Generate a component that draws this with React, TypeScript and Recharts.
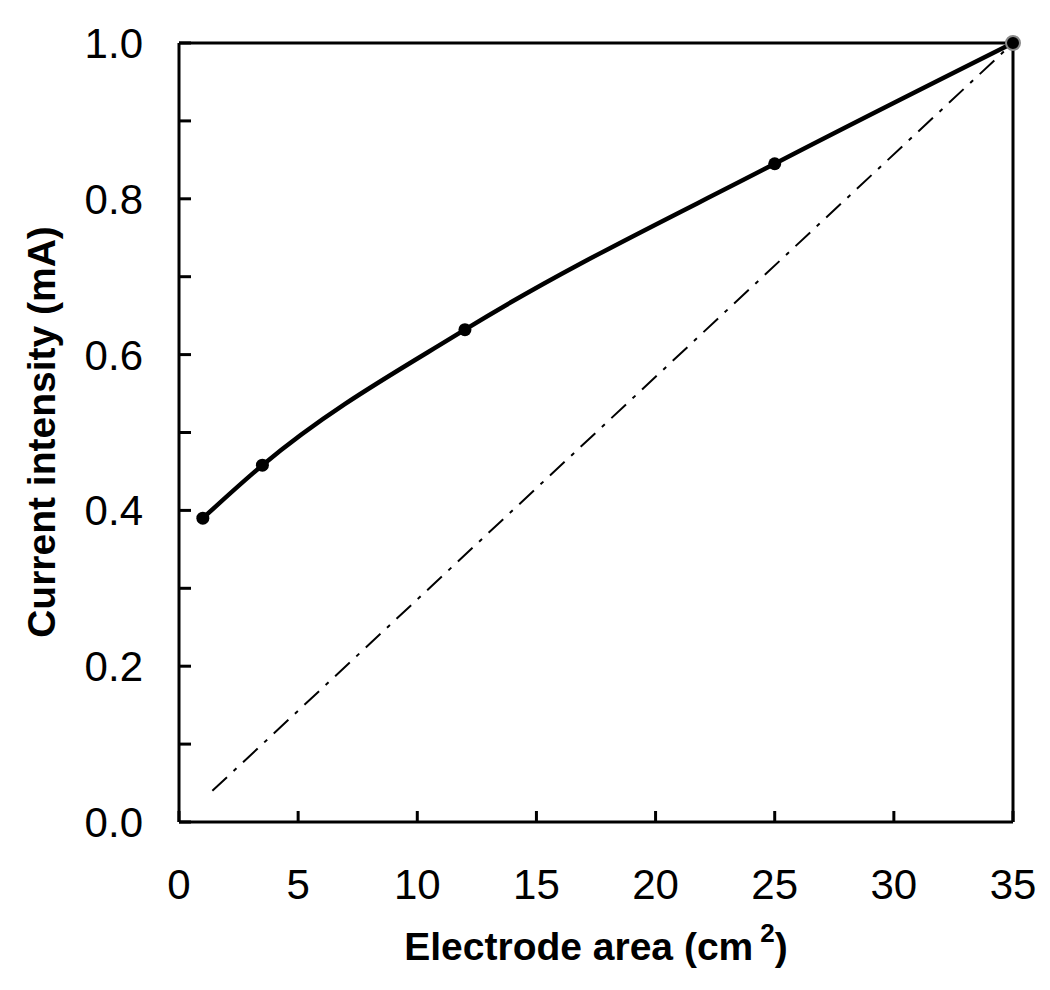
import { LineChart, Line, XAxis, YAxis, Label } from "recharts";

// measured points (electrode area cm2, current mA)
const areas = [1, 3.5, 12, 25, 35];
const currents = [0.39, 0.458, 0.632, 0.845, 1.0];

// proportional reference line (I ~ A / 35)
const refAreas = [1.4, 35];
const refCurrents = [0.04, 1.0];

const xTicks = [0, 5, 10, 15, 20, 25, 30, 35];
const yTicks = [0, 0.1, 0.2, 0.3, 0.4, 0.5, 0.6, 0.7, 0.8, 0.9, 1.0];

const measured = areas.map((x, i) => ({ x, y: currents[i] }));
const reference = refAreas.map((x, i) => ({ x, y: refCurrents[i] }));

const font = "'Liberation Sans', Arial, Helvetica, sans-serif";
const axisLine = { stroke: "#000", strokeWidth: 3 };
const tickLine = { stroke: "#000", strokeWidth: 3 };
const tickFont = { fontSize: 42, fill: "#000", fontFamily: font };

function Dot(props: any) {
  const { cx, cy, index } = props;
  if (index === areas.length - 1) {
    return <circle cx={cx} cy={cy} r={7} fill="#000" stroke="#8a8a8a" strokeWidth={2} />;
  }
  return <circle cx={cx} cy={cy} r={6.5} fill="#000" />;
}

const noTick = () => <g />;

export default function App() {
  return (
    <div style={{ fontFamily: font }}>
      <LineChart
        width={1040}
        height={975}
        margin={{ top: 34, right: 34, bottom: 61, left: 71 }}
      >
        <XAxis
          dataKey="x"
          type="number"
          domain={[0, 35]}
          ticks={xTicks}
          height={100}
          axisLine={axisLine}
          tickLine={tickLine}
          tickSize={-11}
          tickMargin={58}
          tick={tickFont}
        >
          <Label
            content={() => (
              <text
                x={588}
                y={952}
                textAnchor="middle"
                fontFamily={font}
                fontWeight="bold"
                fontSize={39}
                fill="#000"
              >
                Electrode area (cm
                <tspan dx={7} dy={-18} fontSize={26}>2</tspan>
                <tspan dy={18}>)</tspan>
              </text>
            )}
          />
        </XAxis>
        <XAxis
          xAxisId="top"
          orientation="top"
          type="number"
          domain={[0, 35]}
          ticks={xTicks}
          height={1}
          axisLine={axisLine}
          tickLine={tickLine}
          tickSize={-11}
          tick={noTick}
        />
        <YAxis
          type="number"
          domain={[0, 1]}
          ticks={yTicks}
          width={100}
          axisLine={axisLine}
          tickLine={tickLine}
          tickSize={-12}
          tickMargin={48}
          tick={tickFont}
          tickFormatter={(v: number) =>
            Math.round(v * 10) % 2 === 0 ? v.toFixed(1) : ""
          }
        >
          <Label
            content={() => (
              <text
                x={0}
                y={0}
                transform="translate(47 424) rotate(-90)"
                textAnchor="middle"
                fontFamily={font}
                fontWeight="bold"
                fontSize={39}
                fill="#000"
              >
                Current intensity (mA)
              </text>
            )}
          />
        </YAxis>
        <YAxis
          yAxisId="right"
          orientation="right"
          type="number"
          domain={[0, 1]}
          ticks={yTicks}
          width={1}
          axisLine={axisLine}
          tickLine={tickLine}
          tickSize={-12}
          tick={noTick}
        />
        <Line
          data={reference}
          dataKey="y"
          type="linear"
          stroke="#000"
          strokeWidth={2}
          strokeDasharray="20 9 4 9"
          dot={false}
          isAnimationActive={false}
        />
        <Line
          data={measured}
          dataKey="y"
          type="monotone"
          stroke="#000"
          strokeWidth={4.5}
          dot={<Dot />}
          isAnimationActive={false}
        />
      </LineChart>
    </div>
  );
}
